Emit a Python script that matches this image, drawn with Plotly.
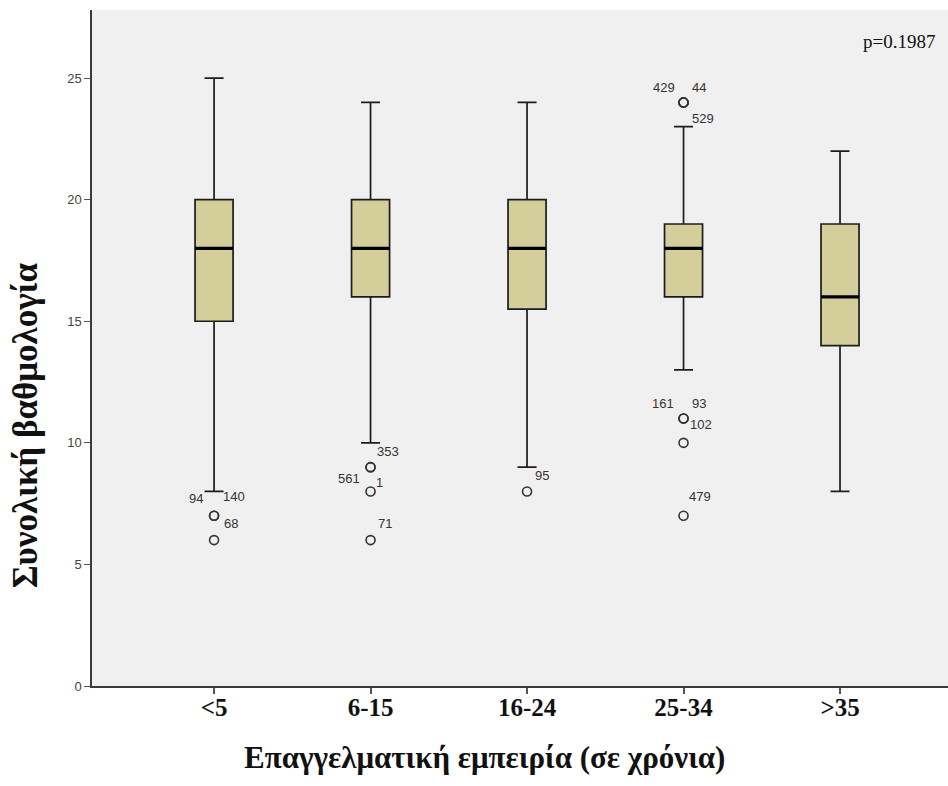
import plotly.graph_objects as go

# Experience groups and box statistics (total score)
groups = ["<5", "6-15", "16-24", "25-34", ">35"]
lower_whisker = [8, 10, 9, 13, 8]
q1 = [15, 16, 15.5, 16, 14]
median = [18, 18, 18, 18, 16]
q3 = [20, 20, 20, 19, 19]
upper_whisker = [25, 24, 24, 23, 22]

# Outlying cases: group index, score, case number
out_group = [0, 0, 0, 1, 1, 1, 1, 2, 3, 3, 3, 3, 3, 3, 3]
out_value = [7, 7, 6, 9, 9, 8, 6, 8, 24, 24, 24, 11, 11, 10, 7]
out_case = ["94", "140", "68", "353", "561", "1", "71", "95",
            "429", "44", "529", "161", "93", "102", "479"]

p_text = "p=0.1987"

# Pixel offsets for the case-number labels
label_shift = {
    "94": (-18, 17), "140": (20, 19), "68": (17, 17),
    "353": (17, 16), "561": (-22, -11), "1": (9, 9), "71": (14, 17),
    "95": (15, 16),
    "429": (-20, 15), "44": (15, 15), "529": (19, -16),
    "161": (-21, 15), "93": (15, 15), "102": (17, 18), "479": (16, 19),
}

BOX_W = 0.243
fill = "#D4CF9A"
xs = list(range(len(groups)))

fig = go.Figure()
for i, g in enumerate(groups):
    fig.add_trace(go.Box(
        x=[i], q1=[q1[i]], median=[median[i]], q3=[q3[i]],
        lowerfence=[lower_whisker[i]], upperfence=[upper_whisker[i]],
        width=BOX_W, whiskerwidth=0.5, boxpoints=False,
        fillcolor=fill, line=dict(color="#1c1c1c", width=1.7),
        showlegend=False, hoverinfo="skip",
    ))
    # heavier median bar
    fig.add_trace(go.Scatter(
        x=[i - BOX_W / 2, i + BOX_W / 2], y=[median[i], median[i]],
        mode="lines", line=dict(color="#000000", width=3.2),
        showlegend=False, hoverinfo="skip",
    ))

fig.add_trace(go.Scatter(
    x=out_group, y=out_value, mode="markers",
    marker=dict(symbol="circle-open", size=9, color="#333333",
                line=dict(width=1.6, color="#333333")),
    showlegend=False, hoverinfo="skip",
))

for gx, v, c in zip(out_group, out_value, out_case):
    dx, dy = label_shift[c]
    fig.add_annotation(x=gx, y=v, text=c, showarrow=False,
                       xshift=dx, yshift=dy,
                       font=dict(family="Liberation Sans", size=13, color="#333333"))

fig.add_annotation(xref="paper", yref="paper", x=0.987, y=0.953,
                   xanchor="right", yanchor="middle", text=p_text, showarrow=False,
                   font=dict(family="Liberation Serif", size=19, color="#111111"))

fig.add_annotation(xref="paper", yref="paper", x=0.458, y=-0.1065,
                   xanchor="center", yanchor="middle",
                   text="Επαγγελματική εμπειρία (σε χρόνια)", showarrow=False,
                   font=dict(family="Liberation Serif", size=31, color="#111111", weight="bold"))

fig.add_annotation(xref="paper", yref="paper", x=-0.078, y=0.386,
                   xanchor="center", yanchor="middle", textangle=-90,
                   text="Συνολική βαθμολογία", showarrow=False,
                   font=dict(family="Liberation Serif", size=35, color="#111111", weight="bold"))

fig.update_layout(
    width=948, height=786,
    margin=dict(l=92, r=0, t=10, b=100),
    paper_bgcolor="white", plot_bgcolor="#F0F0F0",
    xaxis=dict(
        range=[-0.78, 4.69], tickmode="array", tickvals=xs, ticktext=groups,
        showgrid=False, zeroline=False, showline=True, linecolor="#3a3a3a", linewidth=2,
        ticks="outside", ticklen=6, tickcolor="#555555", tickwidth=1.5,
        ticklabelstandoff=-8,
        tickfont=dict(family="Liberation Serif", size=25, color="#111111", weight="bold"),
    ),
    yaxis=dict(
        range=[0, 27.8], tickmode="array", tickvals=[0, 5, 10, 15, 20, 25],
        showgrid=False, zeroline=False, showline=True, linecolor="#3a3a3a", linewidth=1.5,
        ticks="outside", ticklen=6, tickcolor="#555555", tickwidth=1.2,
        tickfont=dict(family="Liberation Sans", size=13, color="#444444"),
    ),
)

fig.write_html("out.html")
